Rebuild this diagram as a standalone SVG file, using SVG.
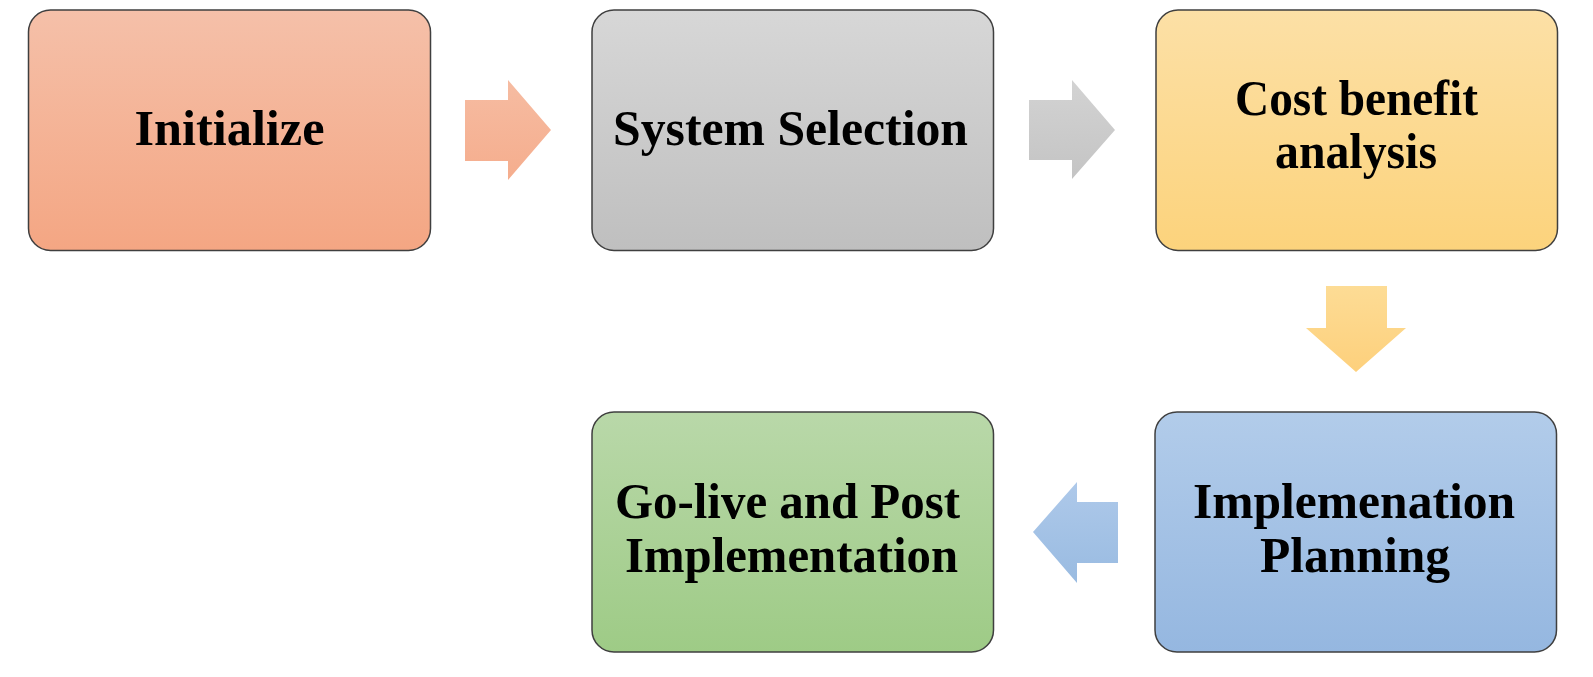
<svg xmlns="http://www.w3.org/2000/svg" width="1593" height="677" viewBox="0 0 1593 677">
<style>
.box{stroke:#3f3f3f;stroke-width:1.5}
.lbl{font-family:"Liberation Serif","Times New Roman",serif;font-weight:bold;font-size:50px;fill:#000;text-anchor:middle}
</style>
<defs>
<linearGradient id="gOr" x1="0" y1="0" x2="0" y2="1"><stop offset="0" stop-color="#F5C0A9"/><stop offset="1" stop-color="#F4A683"/></linearGradient>
<linearGradient id="gGy" x1="0" y1="0" x2="0" y2="1"><stop offset="0" stop-color="#D7D7D7"/><stop offset="1" stop-color="#BFBFBF"/></linearGradient>
<linearGradient id="gYe" x1="0" y1="0" x2="0" y2="1"><stop offset="0" stop-color="#FCE0A6"/><stop offset="1" stop-color="#FCD37C"/></linearGradient>
<linearGradient id="gBl" x1="0" y1="0" x2="0" y2="1"><stop offset="0" stop-color="#B2CCEA"/><stop offset="1" stop-color="#95B7E0"/></linearGradient>
<linearGradient id="gGr" x1="0" y1="0" x2="0" y2="1"><stop offset="0" stop-color="#B9D8A9"/><stop offset="1" stop-color="#9ECB86"/></linearGradient>
<linearGradient id="aOr" x1="0" y1="0" x2="0" y2="1"><stop offset="0" stop-color="#F6BCA2"/><stop offset="1" stop-color="#F5AD8D"/></linearGradient>
<linearGradient id="aGy" x1="0" y1="0" x2="0" y2="1"><stop offset="0" stop-color="#D3D3D3"/><stop offset="1" stop-color="#C4C4C4"/></linearGradient>
<linearGradient id="aYe" x1="0" y1="0" x2="0" y2="1"><stop offset="0" stop-color="#FDDC95"/><stop offset="1" stop-color="#FDD07C"/></linearGradient>
<linearGradient id="aBl" x1="0" y1="0" x2="0" y2="1"><stop offset="0" stop-color="#AEC9EA"/><stop offset="1" stop-color="#99BBE1"/></linearGradient>
</defs>
<rect width="1593" height="677" fill="#fff"/>
<g id="connectors">
<polygon points="465,100 508,100 508,80 551,130 508,180 508,161 465,161" fill="url(#aOr)"/>
<polygon points="1029,100 1072,100 1072,80 1115,130 1072,179 1072,160 1029,160" fill="url(#aGy)"/>
<polygon points="1326,286 1387,286 1387,328 1406,328 1356,372 1306,328 1326,328" fill="url(#aYe)"/>
<polygon points="1118,502 1077,502 1077,482 1033,532 1077,583 1077,563 1118,563" fill="url(#aBl)"/>
</g>
<g id="n1">
<rect class="box" x="28.5" y="10" width="402" height="240.5" rx="22" fill="url(#gOr)"/>
<text class="lbl" x="229.5" y="145" textLength="190" lengthAdjust="spacingAndGlyphs">Initialize</text>
</g>
<g id="n2">
<rect class="box" x="592" y="10" width="401.5" height="240.5" rx="22" fill="url(#gGy)"/>
<text class="lbl" x="790.5" y="145" textLength="355" lengthAdjust="spacingAndGlyphs">System Selection</text>
</g>
<g id="n3">
<rect class="box" x="1156" y="10" width="401.5" height="240.5" rx="22" fill="url(#gYe)"/>
<text class="lbl" x="1356.5" y="115" textLength="243" lengthAdjust="spacingAndGlyphs">Cost benefit</text>
<text class="lbl" x="1356" y="168" textLength="162" lengthAdjust="spacingAndGlyphs">analysis</text>
</g>
<g id="n4">
<rect class="box" x="1155" y="412" width="401.5" height="240" rx="22" fill="url(#gBl)"/>
<text class="lbl" x="1354" y="518" textLength="322" lengthAdjust="spacingAndGlyphs">Implemenation</text>
<text class="lbl" x="1355" y="572" textLength="190" lengthAdjust="spacingAndGlyphs">Planning</text>
</g>
<g id="n5">
<rect class="box" x="592" y="412" width="401.5" height="240" rx="22" fill="url(#gGr)"/>
<text class="lbl" x="787.5" y="518" textLength="345" lengthAdjust="spacingAndGlyphs">Go-live and Post</text>
<text class="lbl" x="791.5" y="572" textLength="333" lengthAdjust="spacingAndGlyphs">Implementation</text>
</g>
</svg>
